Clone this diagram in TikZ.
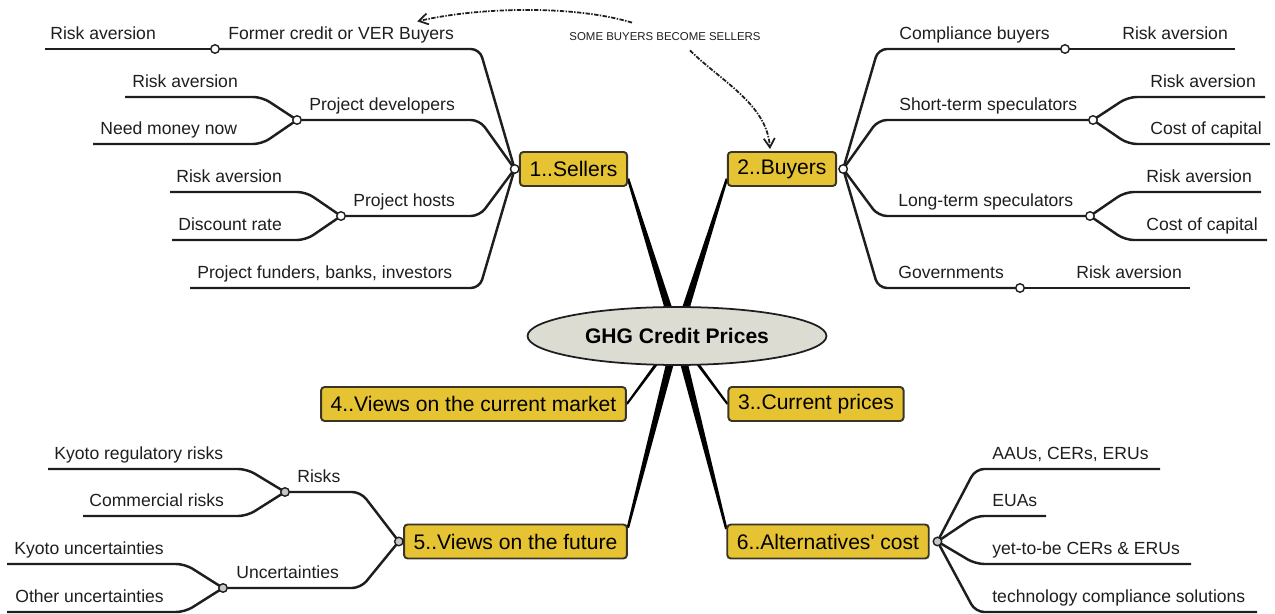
\documentclass[tikz,border=0pt]{standalone}
\usepackage{fontspec}
\setmainfont{Liberation Sans}
\usetikzlibrary{positioning,arrows.meta,calc,backgrounds,shapes.geometric}
\definecolor{topicfill}{HTML}{E6C333}
\definecolor{topicline}{HTML}{3B3526}
\definecolor{rootfill}{HTML}{DCDCD3}
\definecolor{inkgray}{HTML}{1E1E1E}
% tapered trunk from the root to a topic box
\newcommand{\trunk}[4]{\fill[trunkfill] ($(#1)!#3!90:(#2)$) -- ($(#2)!#4!-90:(#1)$) -- ($(#2)!#4!90:(#1)$) -- ($(#1)!#3!-90:(#2)$) -- cycle;}

\begin{document}
\begin{tikzpicture}[
  x=0.02cm, y=-0.02cm,
  font=\fontsize{10}{12}\selectfont,
  root/.style={ellipse, draw=inkgray, fill=rootfill, line width=1pt, minimum width=5.98cm, minimum height=1.16cm, inner sep=0pt, font=\fontsize{12}{14}\selectfont\bfseries},
  topic/.style={draw=topicline, fill=topicfill, line width=1.1pt, rounded corners=2pt, minimum height=0.68cm, inner xsep=5.5pt, inner ysep=0pt, font=\fontsize{12}{14}\selectfont},
  knob/.style={circle, draw=inkgray, fill=white, line width=0.8pt, minimum size=0.17cm, inner sep=0pt, outer sep=0pt},
  darkknob/.style={knob, fill=gray!45},
  lbl/.style={anchor=base west, inner sep=0pt, text=inkgray},
  branch/.style={draw=inkgray, line width=1.4pt, rounded corners=5pt},
  fork/.style={to path={-- ($(\tikztostart |- \tikztotarget)+(#1,0)$) -- (\tikztotarget)}},
  trunkfill/.style={fill=black},
  hint/.style={-{Straight Barb[length=1.8mm,width=2.2mm]}, draw=inkgray, line width=1pt, dash pattern=on 2.5pt off 0.8pt on 0.8pt off 0.8pt}
]
\useasboundingbox (0,0) rectangle (1275,614);
% ---------- root and topics ----------
\node[root] (ghg) at (677,336) {GHG Credit Prices};
\node[topic] (sellers) at (573.5,169) {1..Sellers};
\node[topic] (buyers) at (782,169) {2..Buyers};
\node[topic] (views) at (473.5,404) {4..Views on the current market};
\node[topic] (prices) at (816,404) {3..Current prices};
\node[topic] (future) at (515.5,541.5) {5..Views on the future};
\node[topic] (altcost) at (828,541.5) {6..Alternatives\textquotesingle\ cost};
\begin{scope}[on background layer]
  \trunk{ghg.center}{sellers.-10}{2.4pt}{0.7pt}
  \trunk{ghg.center}{buyers.190}{2.4pt}{0.7pt}
  \trunk{ghg.center}{views.east}{1pt}{0.6pt}
  \trunk{ghg.center}{prices.west}{1pt}{0.6pt}
  \trunk{ghg.center}{future.7}{2.4pt}{0.7pt}
  \trunk{ghg.center}{altcost.173}{2.4pt}{0.7pt}
\end{scope}
\node[knob, left=0pt of sellers] (sk) {};
\node[knob, right=1pt of buyers] (bk) {};
\node[darkknob, left=0pt of future] (fk) {};
\node[darkknob, right=2pt of altcost] (ak) {};
% ---------- sellers ----------
\node[knob] (fcbk) at (215,49) {};
\node[knob] (pdk) at (297,120) {};
\node[knob] (phk) at (341,216) {};
\coordinate (fcbend) at (45,49);
\coordinate (pdra) at (125,97);
\coordinate (pdmn) at (93,144);
\coordinate (phra) at (170,192);
\coordinate (phdr) at (172,240);
\coordinate (pfend) at (190,288);
\draw[branch] (sk) to[fork=-35] (fcbk);
\draw[branch] (fcbk) -- (fcbend);
\draw[branch] (sk) to[fork=-35] (pdk);
\draw[branch] (pdk) to[fork=-35] (pdra);
\draw[branch] (pdk) to[fork=-35] (pdmn);
\draw[branch] (sk) to[fork=-35] (phk);
\draw[branch] (phk) to[fork=-35] (phra);
\draw[branch] (phk) to[fork=-35] (phdr);
\draw[branch] (sk) to[fork=-35] (pfend);
\node[lbl] (fcbl) at (228,39.5) {Former credit or VER Buyers};
\node[lbl] (fcbra) at (50,39.5) {Risk aversion};
\node[lbl] (pdl) at (309,110.5) {Project developers};
\node[lbl] (pdral) at (132,87.5) {Risk aversion};
\node[lbl] (pdmnl) at (100,134.5) {Need money now};
\node[lbl] (phl) at (353,206.5) {Project hosts};
\node[lbl] (phral) at (176,182.5) {Risk aversion};
\node[lbl] (phdrl) at (178,230.5) {Discount rate};
\node[lbl] (pfl) at (197,278.5) {Project funders, banks, investors};
% ---------- buyers ----------
\node[knob] (cbk) at (1065,49) {};
\node[knob] (stk) at (1093,120) {};
\node[knob] (ltk) at (1090,216) {};
\node[knob] (gvk) at (1020,288) {};
\coordinate (cbend) at (1235,49);
\coordinate (stra) at (1265,97);
\coordinate (stcc) at (1270,144);
\coordinate (ltra) at (1261,192);
\coordinate (ltcc) at (1267,240);
\coordinate (gvend) at (1190,288);
\draw[branch] (bk) to[fork=35] (cbk);
\draw[branch] (cbk) -- (cbend);
\draw[branch] (bk) to[fork=35] (stk);
\draw[branch] (stk) to[fork=35] (stra);
\draw[branch] (stk) to[fork=35] (stcc);
\draw[branch] (bk) to[fork=35] (ltk);
\draw[branch] (ltk) to[fork=35] (ltra);
\draw[branch] (ltk) to[fork=35] (ltcc);
\draw[branch] (bk) to[fork=35] (gvk);
\draw[branch] (gvk) -- (gvend);
\node[lbl] (cbl) at (899,39.5) {Compliance buyers};
\node[lbl] (cbral) at (1122,39.5) {Risk aversion};
\node[lbl] (stl) at (899,110.5) {Short-term speculators};
\node[lbl] (stral) at (1150,87.5) {Risk aversion};
\node[lbl] (stccl) at (1150,134.5) {Cost of capital};
\node[lbl] (ltl) at (898,206.5) {Long-term speculators};
\node[lbl] (ltral) at (1146,182.5) {Risk aversion};
\node[lbl] (ltccl) at (1146,230.5) {Cost of capital};
\node[lbl] (gvl) at (898,278.5) {Governments};
\node[lbl] (gvral) at (1076,278.5) {Risk aversion};
% ---------- views on the future ----------
\node[darkknob] (rk) at (285,492) {};
\node[darkknob] (uk) at (223,588) {};
\coordinate (krr) at (48,469);
\coordinate (crk) at (83,516);
\coordinate (kun) at (7,564);
\coordinate (oun) at (7,612);
\draw[branch] (fk) to[fork=-38] (rk);
\draw[branch] (rk) to[fork=-38] (krr);
\draw[branch] (rk) to[fork=-38] (crk);
\draw[branch] (fk) to[fork=-38] (uk);
\draw[branch] (uk) to[fork=-38] (kun);
\draw[branch] (uk) to[fork=-38] (oun);
\node[lbl] (rkl) at (297,482.5) {Risks};
\node[lbl] (krrl) at (54,459.5) {Kyoto regulatory risks};
\node[lbl] (crkl) at (89,506.5) {Commercial risks};
\node[lbl] (ukl) at (236,578.5) {Uncertainties};
\node[lbl] (kunl) at (14,554.5) {Kyoto uncertainties};
\node[lbl] (ounl) at (15,602.5) {Other uncertainties};
% ---------- alternatives' cost ----------
\coordinate (aac) at (1160,469);
\coordinate (eua) at (1046,516);
\coordinate (ytb) at (1191,564);
\coordinate (tcs) at (1257,612);
\draw[branch] (ak) to[fork=38] (aac);
\draw[branch] (ak) to[fork=38] (eua);
\draw[branch] (ak) to[fork=38] (ytb);
\draw[branch] (ak) to[fork=38] (tcs);
\node[lbl] (aacl) at (992,459.5) {AAUs, CERs, ERUs};
\node[lbl] (eual) at (992,506.5) {EUAs};
\node[lbl] (ytbl) at (992,554.5) {yet-to-be CERs \& ERUs};
\node[lbl] (tcsl) at (992,602.5) {technology compliance solutions};
% ---------- buyers become sellers ----------
\node[font=\fontsize{6.5}{8}\selectfont, inner sep=0pt, text=inkgray] (swap) at (665,37) {SOME BUYERS BECOME SELLERS};
\draw[hint] ([shift={(-33,-10)}]swap.north) .. controls +(-60,-18) and +(60,-14) .. ([shift={(-37,-5)}]fcbl.north east);
\draw[hint] ([shift={(25,9)}]swap.south) .. controls +(30,30) and +(-3,-45) .. ([shift={(-12,-2)}]buyers.north);
\end{tikzpicture}
\end{document}
